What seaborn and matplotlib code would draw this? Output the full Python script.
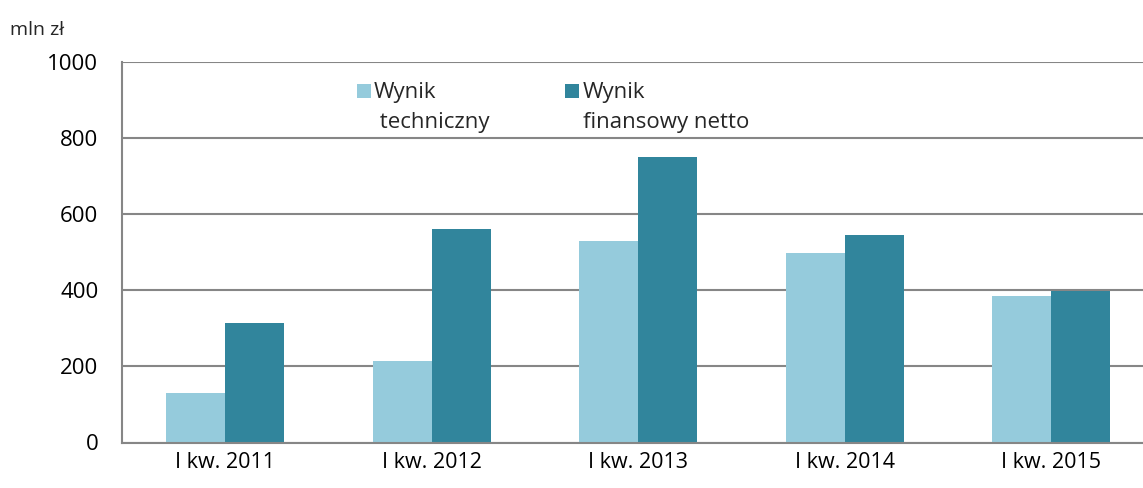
import pandas as pd
import numpy as np
import matplotlib
matplotlib.use("Agg")
import matplotlib.pyplot as plt
import matplotlib.patches as mpatches
from matplotlib.legend_handler import HandlerPatch
import seaborn as sns

# dane z wykresu (mln zł)
kwartaly = ["I kw. 2011", "I kw. 2012", "I kw. 2013", "I kw. 2014", "I kw. 2015"]
wynik_techniczny = [130, 215, 530, 499, 386]
wynik_finansowy = [313, 562, 751, 545, 397]
serie = ["Wynik\n techniczny", "Wynik\nfinansowy netto"]
kolory = ["#95CBDC", "#31859C"]
y_ticks = [0, 200, 400, 600, 800, 1000]

df = pd.DataFrame({
    "kwartal": kwartaly * 2,
    "wartosc": wynik_techniczny + wynik_finansowy,
    "seria": [serie[0]] * len(kwartaly) + [serie[1]] * len(kwartaly),
})

sns.set_style("white")
plt.rcParams["font.family"] = ["Open Sans", "DejaVu Sans"]

fig = plt.figure(figsize=(11.43, 4.88), dpi=100)
ax = fig.add_axes([122 / 1143, (488 - 442.5) / 488, 1 - 122 / 1143, (442.5 - 62) / 488])

sns.barplot(data=df, x="kwartal", y="wartosc", hue="seria", palette=kolory,
            width=0.571, gap=0, saturation=1, linewidth=0, ax=ax)

gray = "#868686"
ax.set_yticks(y_ticks)
ax.set_xticks(np.arange(-0.5, 5, 1), minor=True)
ax.set_ylim(0, 1000)
ax.set_xlim(-0.5, 4.445)
ax.yaxis.grid(True, color=gray, linewidth=1.5)
ax.set_axisbelow(True)

for s in ["top", "right"]:
    ax.spines[s].set_visible(False)
for s in ["left", "bottom"]:
    ax.spines[s].set_color(gray)
    ax.spines[s].set_linewidth(1.5)

ax.tick_params(axis="x", which="major", length=0, pad=7, labelsize=15.5, colors="black")
ax.tick_params(axis="x", which="minor", length=6.5, width=1.5, color=gray, direction="out")
ax.tick_params(axis="y", length=6, width=1.5, color=gray, direction="out", pad=11,
               labelsize=16, labelcolor="black")
ax.set_xlabel("")
ax.set_ylabel("")

fig.text(10 / 1143, 1 - 30 / 488, "mln zł", fontsize=14, va="center", ha="left")


# kwadracik legendy wyrównany do pierwszej linii tekstu
def top_square(legend, orig_handle, xdescent, ydescent, width, height, fontsize):
    return mpatches.Rectangle((-xdescent, -ydescent + 0.75 * fontsize), width, height)


handles, labels = ax.get_legend_handles_labels()
leg = ax.legend(handles, labels, loc="upper left", bbox_to_anchor=(0.230, 0.947), ncol=2,
                frameon=False, fontsize=16, handlelength=0.62, handleheight=0.62,
                handletextpad=0.15, columnspacing=3.42, borderpad=0, borderaxespad=0,
                handler_map={mpatches.Rectangle: HandlerPatch(patch_func=top_square)})
for t in leg.get_texts():
    t.set_linespacing(1.55)

plt.savefig("out.png", dpi=100)
